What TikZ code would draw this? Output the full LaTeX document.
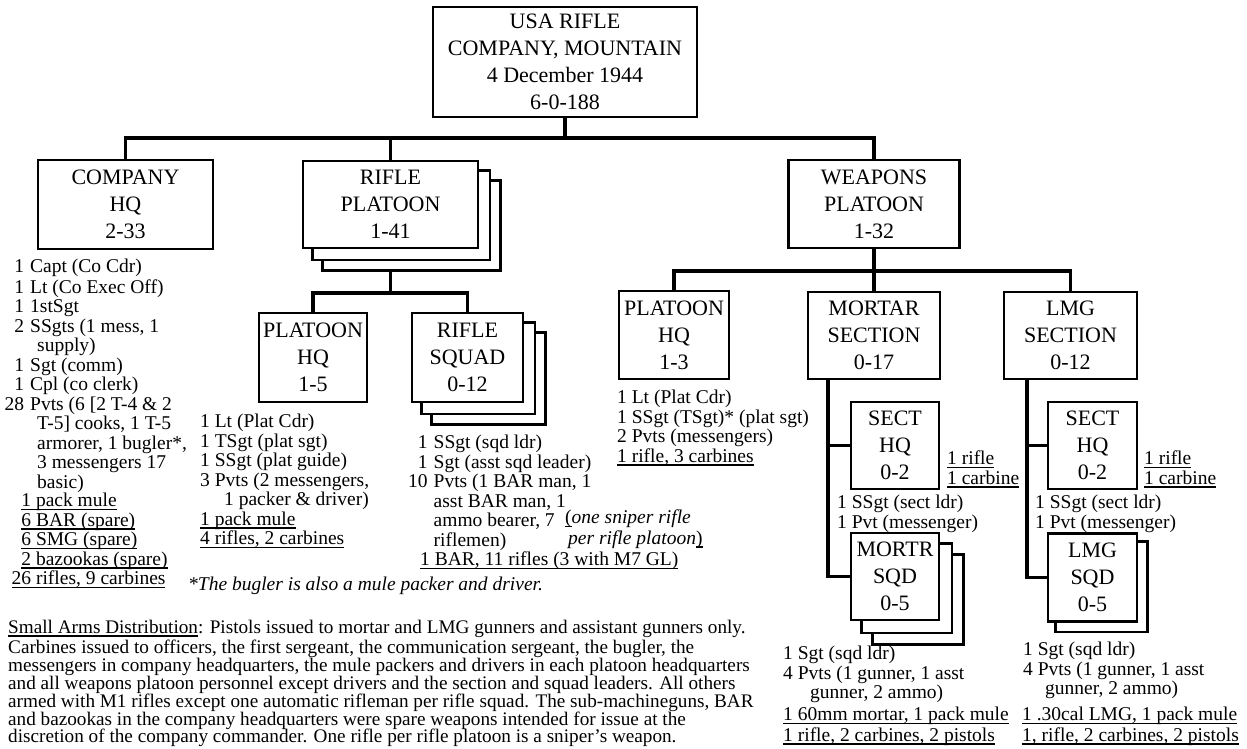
\documentclass[tikz,border=0pt]{standalone}
\usepackage{fontspec}
\setmainfont{Liberation Serif}
\usetikzlibrary{backgrounds}
\newcommand\unitfont{\fontsize{22}{27}\selectfont}
\newcommand\rosterfont{\fontsize{19.5}{19.5}\selectfont}
\newcommand\parafont{\fontsize{19.2}{17.9}\selectfont}
\newcommand\nr[1]{\makebox[19.5pt][r]{#1}\hspace{6pt}}
\newcommand\uln[1]{\setbox0=\hbox{#1}\rlap{\rule[-3.2pt]{\wd0}{1.3pt}}\box0}
\tikzset{unit/.style={draw,line width=2.6pt,fill=white,align=center,font=\unitfont,inner sep=0pt},sheet/.style={draw,line width=2.6pt,fill=white},link/.style={line width=3.2pt},roster/.style={anchor=north west,align=left,inner sep=0pt,font=\rosterfont}}

\begin{document}
\begin{tikzpicture}[x=1pt,y=-1pt]
\useasboundingbox (0,0) rectangle (1247,748);
% units
\node[unit,minimum width=264pt,minimum height=110pt] (co) at (565,62) {USA RIFLE\\COMPANY, MOUNTAIN\\4 December 1944\\6-0-188};
\node[unit,minimum width=175pt,minimum height=89pt] (chq) at (125.5,204.5) {COMPANY\\HQ\\2-33};
\node[unit,minimum width=175pt,minimum height=87pt] (rp) at (390.5,204.5) {RIFLE\\PLATOON\\1-41};
\node[unit,minimum width=171pt,minimum height=88pt] (wp) at (874,204) {WEAPONS\\PLATOON\\1-32};
\node[unit,minimum width=108pt,minimum height=89pt] (rhq) at (313,357.5) {PLATOON\\HQ\\1-5};
\node[unit,minimum width=111pt,minimum height=89pt] (rsq) at (467.5,357.5) {RIFLE\\SQUAD\\0-12};
\node[unit,minimum width=110pt,minimum height=88pt] (whq) at (674,335) {PLATOON\\HQ\\1-3};
\node[unit,minimum width=132pt,minimum height=87pt] (msec) at (874,335.5) {MORTAR\\SECTION\\0-17};
\node[unit,minimum width=133pt,minimum height=87pt] (lsec) at (1070.5,335.5) {LMG\\SECTION\\0-12};
\node[unit,minimum width=88pt,minimum height=87pt] (mhq) at (895,445.5) {SECT\\HQ\\0-2};
\node[unit,minimum width=89pt,minimum height=87pt] (lhq) at (1092.5,445.5) {SECT\\HQ\\0-2};
\node[unit,minimum width=88pt,minimum height=87pt] (msq) at (895,576.5) {MORTR\\SQD\\0-5};
\node[unit,minimum width=89pt,minimum height=88pt] (lsq) at (1092.5,577.5) {LMG\\SQD\\0-5};
% stacked copies behind the multiple units
\begin{scope}[on background layer]
\foreach \n/\d in {rp/21,rp/10.5,rsq/21,rsq/10.5,msq/23,msq/11.5,lsq/9}{\draw[sheet] ([shift={(\d,\d)}]\n.north west) rectangle ([shift={(\d,\d)}]\n.south east);}
\end{scope}
% connectors
\coordinate (bus1) at (565,138);
\coordinate (rpfoot) at ([shift={(0,21)}]rp.south);
\coordinate (bus2) at (390.5,293);
\coordinate (bus3) at (874,271);
\coordinate (mdrop) at ([shift={(-46,0)}]msec.south);
\coordinate (ldrop) at ([shift={(-43.5,0)}]lsec.south);
\draw[link] (co) -- (bus1);
\draw[link] (chq) |- (bus1) -| (wp);
\draw[link] (rp) -- (rp |- bus1);
\draw[link] (rpfoot) -- (bus2);
\draw[link] (rhq) |- (bus2) -| (rsq);
\draw[link] (wp) -- (msec);
\draw[link] (whq) |- (bus3) -| (lsec);
\draw[link] (mdrop) |- (mhq.west);
\draw[link] (mdrop) |- (msq.west);
\draw[link] (ldrop) |- (lhq.west);
\draw[link] (ldrop) |- (lsq.west);
% rosters
\node[roster] (chqmen) at (4.5,259) {\strut\nr{1}Capt (Co Cdr)\\\nr{1}Lt (Co Exec Off)\\\nr{1}1stSgt\\\nr{2}SSgts (1 mess, 1\\\nr{}\hspace*{7pt}supply)\\\nr{1}Sgt (comm)\\\nr{1}Cpl (co clerk)\\\nr{28}Pvts (6 [2 T-4 \& 2\\\nr{}\hspace*{7pt}T-5] cooks, 1 T-5\\\nr{}\hspace*{7pt}armorer, 1 bugler*,\\\nr{}\hspace*{7pt}3 messengers 17\\\nr{}\hspace*{7pt}basic)};
\node[roster] (chqarms) at (11.5,493) {\strut\hphantom{0}\uln{1 pack mule}\\\hphantom{0}\uln{6 BAR (spare)}\\\hphantom{0}\uln{6 SMG (spare)}\\\hphantom{0}\uln{2 bazookas (spare)}\\\uln{26 rifles, 9 carbines}};
\node[roster] (rhqmen) at (200,414) {\strut 1 Lt (Plat Cdr)\\1 TSgt (plat sgt)\\1 SSgt (plat guide)\\3 Pvts (2 messengers,\\\hspace*{24pt}1 packer \& driver)\\\uln{1 pack mule}\\\uln{4 rifles, 2 carbines}};
\node[roster] (rsqmen) at (408,435) {\strut\nr{1}SSgt (sqd ldr)\\\nr{1}Sgt (asst sqd leader)\\\nr{10}Pvts (1 BAR man, 1\\\nr{}asst BAR man, 1\\\nr{}ammo bearer, 7\\\nr{}riflemen)};
\node[roster] (rsqarms) at (420,552) {\strut\uln{1 BAR, 11 rifles (3 with M7 GL)}};
\node[roster,font=\rosterfont\itshape] (sniper) at (565,510) {\strut\uln{\upshape(}one sniper rifle\\\hspace*{3pt}per rifle platoon\uln{\upshape)}};
\node[roster,font=\rosterfont\itshape] (bugnote) at (188,577) {\strut*The bugler is also a mule packer and driver.};
\node[roster] (whqmen) at (617,390) {\strut 1 Lt (Plat Cdr)\\1 SSgt (TSgt)* (plat sgt)\\2 Pvts (messengers)\\\uln{1 rifle, 3 carbines}};
\node[roster] (mhqarms) at (947,451) {\strut\uln{1 rifle}\\\uln{1 carbine}};
\node[roster] (msecmen) at (837,495) {\strut 1 SSgt (sect ldr)\\1 Pvt (messenger)};
\node[roster] (msqmen) at (783,646) {\strut 1 Sgt (sqd ldr)\\4 Pvts (1 gunner, 1 asst\\\hspace*{27pt}gunner, 2 ammo)};
\node[roster] (msqarms) at (783,707) {\strut\uln{1 60mm mortar, 1 pack mule}\\\uln{1 rifle, 2 carbines, 2 pistols}};
\node[roster] (lhqarms) at (1144,451) {\strut\uln{1 rifle}\\\uln{1 carbine}};
\node[roster] (lsecmen) at (1035,495) {\strut 1 SSgt (sect ldr)\\1 Pvt (messenger)};
\node[roster] (lsqmen) at (1023,642) {\strut 1 Sgt (sqd ldr)\\4 Pvts (1 gunner, 1 asst\\\hspace*{22pt}gunner, 2 ammo)};
\node[roster] (lsqarms) at (1022,707) {\strut\uln{1 .30cal LMG, 1 pack mule}\\\uln{1, rifle, 2 carbines, 2 pistols}};
\node[roster,font=\parafont] (smallarms) at (8,620) {\strut\uln{Small Arms Distribution}: Pistols issued to mortar and LMG gunners and assistant gunners only.\\Carbines issued to officers, the first sergeant, the communication sergeant, the bugler, the\\messengers in company headquarters, the mule packers and drivers in each platoon headquarters\\and all weapons platoon personnel except drivers and the section and squad leaders. All others\\armed with M1 rifles except one automatic rifleman per rifle squad. The sub-machineguns, BAR\\and bazookas in the company headquarters were spare weapons intended for issue at the\\discretion of the company commander. One rifle per rifle platoon is a sniper’s weapon.};
\end{tikzpicture}
\end{document}
